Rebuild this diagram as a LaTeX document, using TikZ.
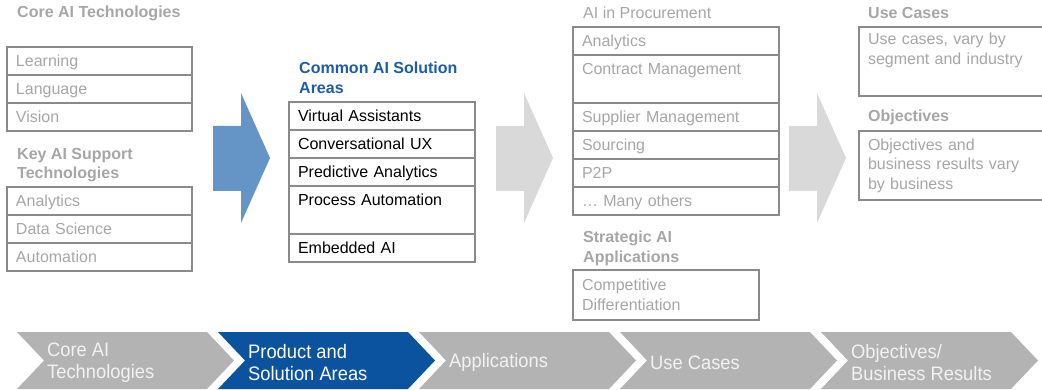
\documentclass[tikz,border=0pt]{standalone}
\usepackage{fontspec}
\setmainfont{Liberation Sans}
\newfontfamily\narrowfont[FakeStretch=0.94]{Liberation Sans}
\usetikzlibrary{positioning}
\usepackage{xcolor}
\definecolor{softgray}{HTML}{A6A6A6}
\definecolor{boxline}{HTML}{8A8A8A}
\definecolor{headblue}{HTML}{1C5DA8}
\definecolor{bluearrow}{HTML}{6495C6}
\definecolor{grayarrow}{HTML}{D9D9D9}
\definecolor{chevgray}{HTML}{B3B3B3}
\definecolor{chevblue}{HTML}{0B539F}
\definecolor{chevink}{HTML}{F2F2F2}

\begin{document}
\begin{tikzpicture}[x=1pt, y=-1pt,
    head/.style={anchor=west, inner sep=0pt, align=left, font=\fontsize{16}{19.5}\selectfont\bfseries, text=softgray},
    cellbox/.style={rectangle, draw=boxline, line width=1.6pt, outer sep=0pt, inner xsep=9pt, inner ysep=0pt, align=left, font=\fontsize{16}{19.5}\selectfont, text=softgray, text width=#1},
    cellbox/.default=167pt,
    rowbox/.style={cellbox=#1, minimum height=28pt, text height=13.5pt, text depth=1.5pt},
    rowbox/.default=167pt,
    tallbox/.style={cellbox=#1, minimum height=48pt, text height=13.5pt, text depth=21.5pt},
    tallbox/.default=167pt,
    chevtext/.style={anchor=west, inner sep=0pt, yshift=-2pt, align=left, font=\narrowfont\fontsize{19.5}{22.5}\selectfont}
]
    \useasboundingbox (0,0) rectangle (1042,390);

    % Core AI technologies
    \node[head] (core) at (17,13) {Core AI Technologies};
    \node[rowbox, anchor=north west] (learning) at (7,47) {Learning};
    \node[rowbox, below=0pt of learning] (language) {Language};
    \node[rowbox, below=0pt of language] (vision) {Vision};

    % Key AI support technologies
    \node[head] (support) at (17,165) {Key AI Support\\Technologies};
    \node[rowbox, anchor=north west] (analytics) at (7,187) {Analytics};
    \node[rowbox, below=0pt of analytics] (datasci) {Data Science};
    \node[rowbox, below=0pt of datasci] (automation) {Automation};

    % Common AI solution areas
    \node[head, text=headblue] (common) at (299,78) {Common AI Solution\\Areas};
    \node[rowbox=168pt, text=black, anchor=north west] (virtual) at (289,102) {Virtual Assistants};
    \node[rowbox=168pt, text=black, below=0pt of virtual] (convux) {Conversational UX};
    \node[rowbox=168pt, text=black, below=0pt of convux] (predictive) {Predictive Analytics};
    \node[tallbox=168pt, text=black, below=0pt of predictive] (process) {Process Automation};
    \node[rowbox=168pt, text=black, below=0pt of process] (embedded) {Embedded AI};

    % AI in procurement
    \node[head, font=\fontsize{16}{19.5}\selectfont] (procure) at (583,13) {AI in Procurement};
    \node[rowbox=188pt, anchor=north west] (panalytics) at (573,27) {Analytics};
    \node[tallbox=188pt, below=0pt of panalytics] (contract) {Contract Management};
    \node[rowbox=188pt, below=0pt of contract] (supplier) {Supplier Management};
    \node[rowbox=188pt, below=0pt of supplier] (sourcing) {Sourcing};
    \node[rowbox=188pt, below=0pt of sourcing] (ptwop) {P2P};
    \node[rowbox=188pt, below=0pt of ptwop] (others) {… Many others};

    % Strategic AI applications
    \node[head] (strategic) at (583,248.5) {Strategic AI\\Applications};
    \node[cellbox=168pt, minimum height=50pt, anchor=north west] (compdiff) at (573,270) {Competitive\\Differentiation};

    % Use cases and objectives
    \node[head] (usehead) at (868,13) {Use Cases};
    \node[cellbox=182pt, minimum height=69pt, anchor=north west] (usecases) at (859,27) {Use cases, vary by\\segment and industry\\\strut};
    \node[head] (objhead) at (868,117) {Objectives};
    \node[cellbox=182pt, minimum height=69pt, anchor=north west] (objectives) at (859,131) {Objectives and\\business results vary\\by business};

    % Block arrows between the columns
    \foreach \x/\c in {213/bluearrow, 496/grayarrow, 789/grayarrow}
        \fill[\c] (\x,126) -- ++(28,0) -- ++(0,-33) -- ++(29,65) -- ++(-29,65) -- ++(0,-32) -- ++(-28,0) -- cycle;

    % Chevron bar
    \foreach \i/\fillc/\inkc/\txt in {0/chevgray/chevink/{Core AI\\Technologies}, 1/chevblue/white/{Product and\\Solution Areas}, 2/chevgray/chevink/{Applications}, 3/chevgray/chevink/{Use Cases}, 4/chevgray/chevink/{Objectives/\\Business Results}} {
        \pgfmathsetmacro{\x}{17+201*\i}
        \fill[\fillc] (\x,332) -- ++(190,0) -- ++(27,28.5) -- ++(-27,28.5) -- ++(-190,0) -- ++(27,-28.5) -- cycle;
        \node[chevtext, text=\inkc] (chev\i) at (\x+30,360.5) {\txt};
    }
\end{tikzpicture}
\end{document}
